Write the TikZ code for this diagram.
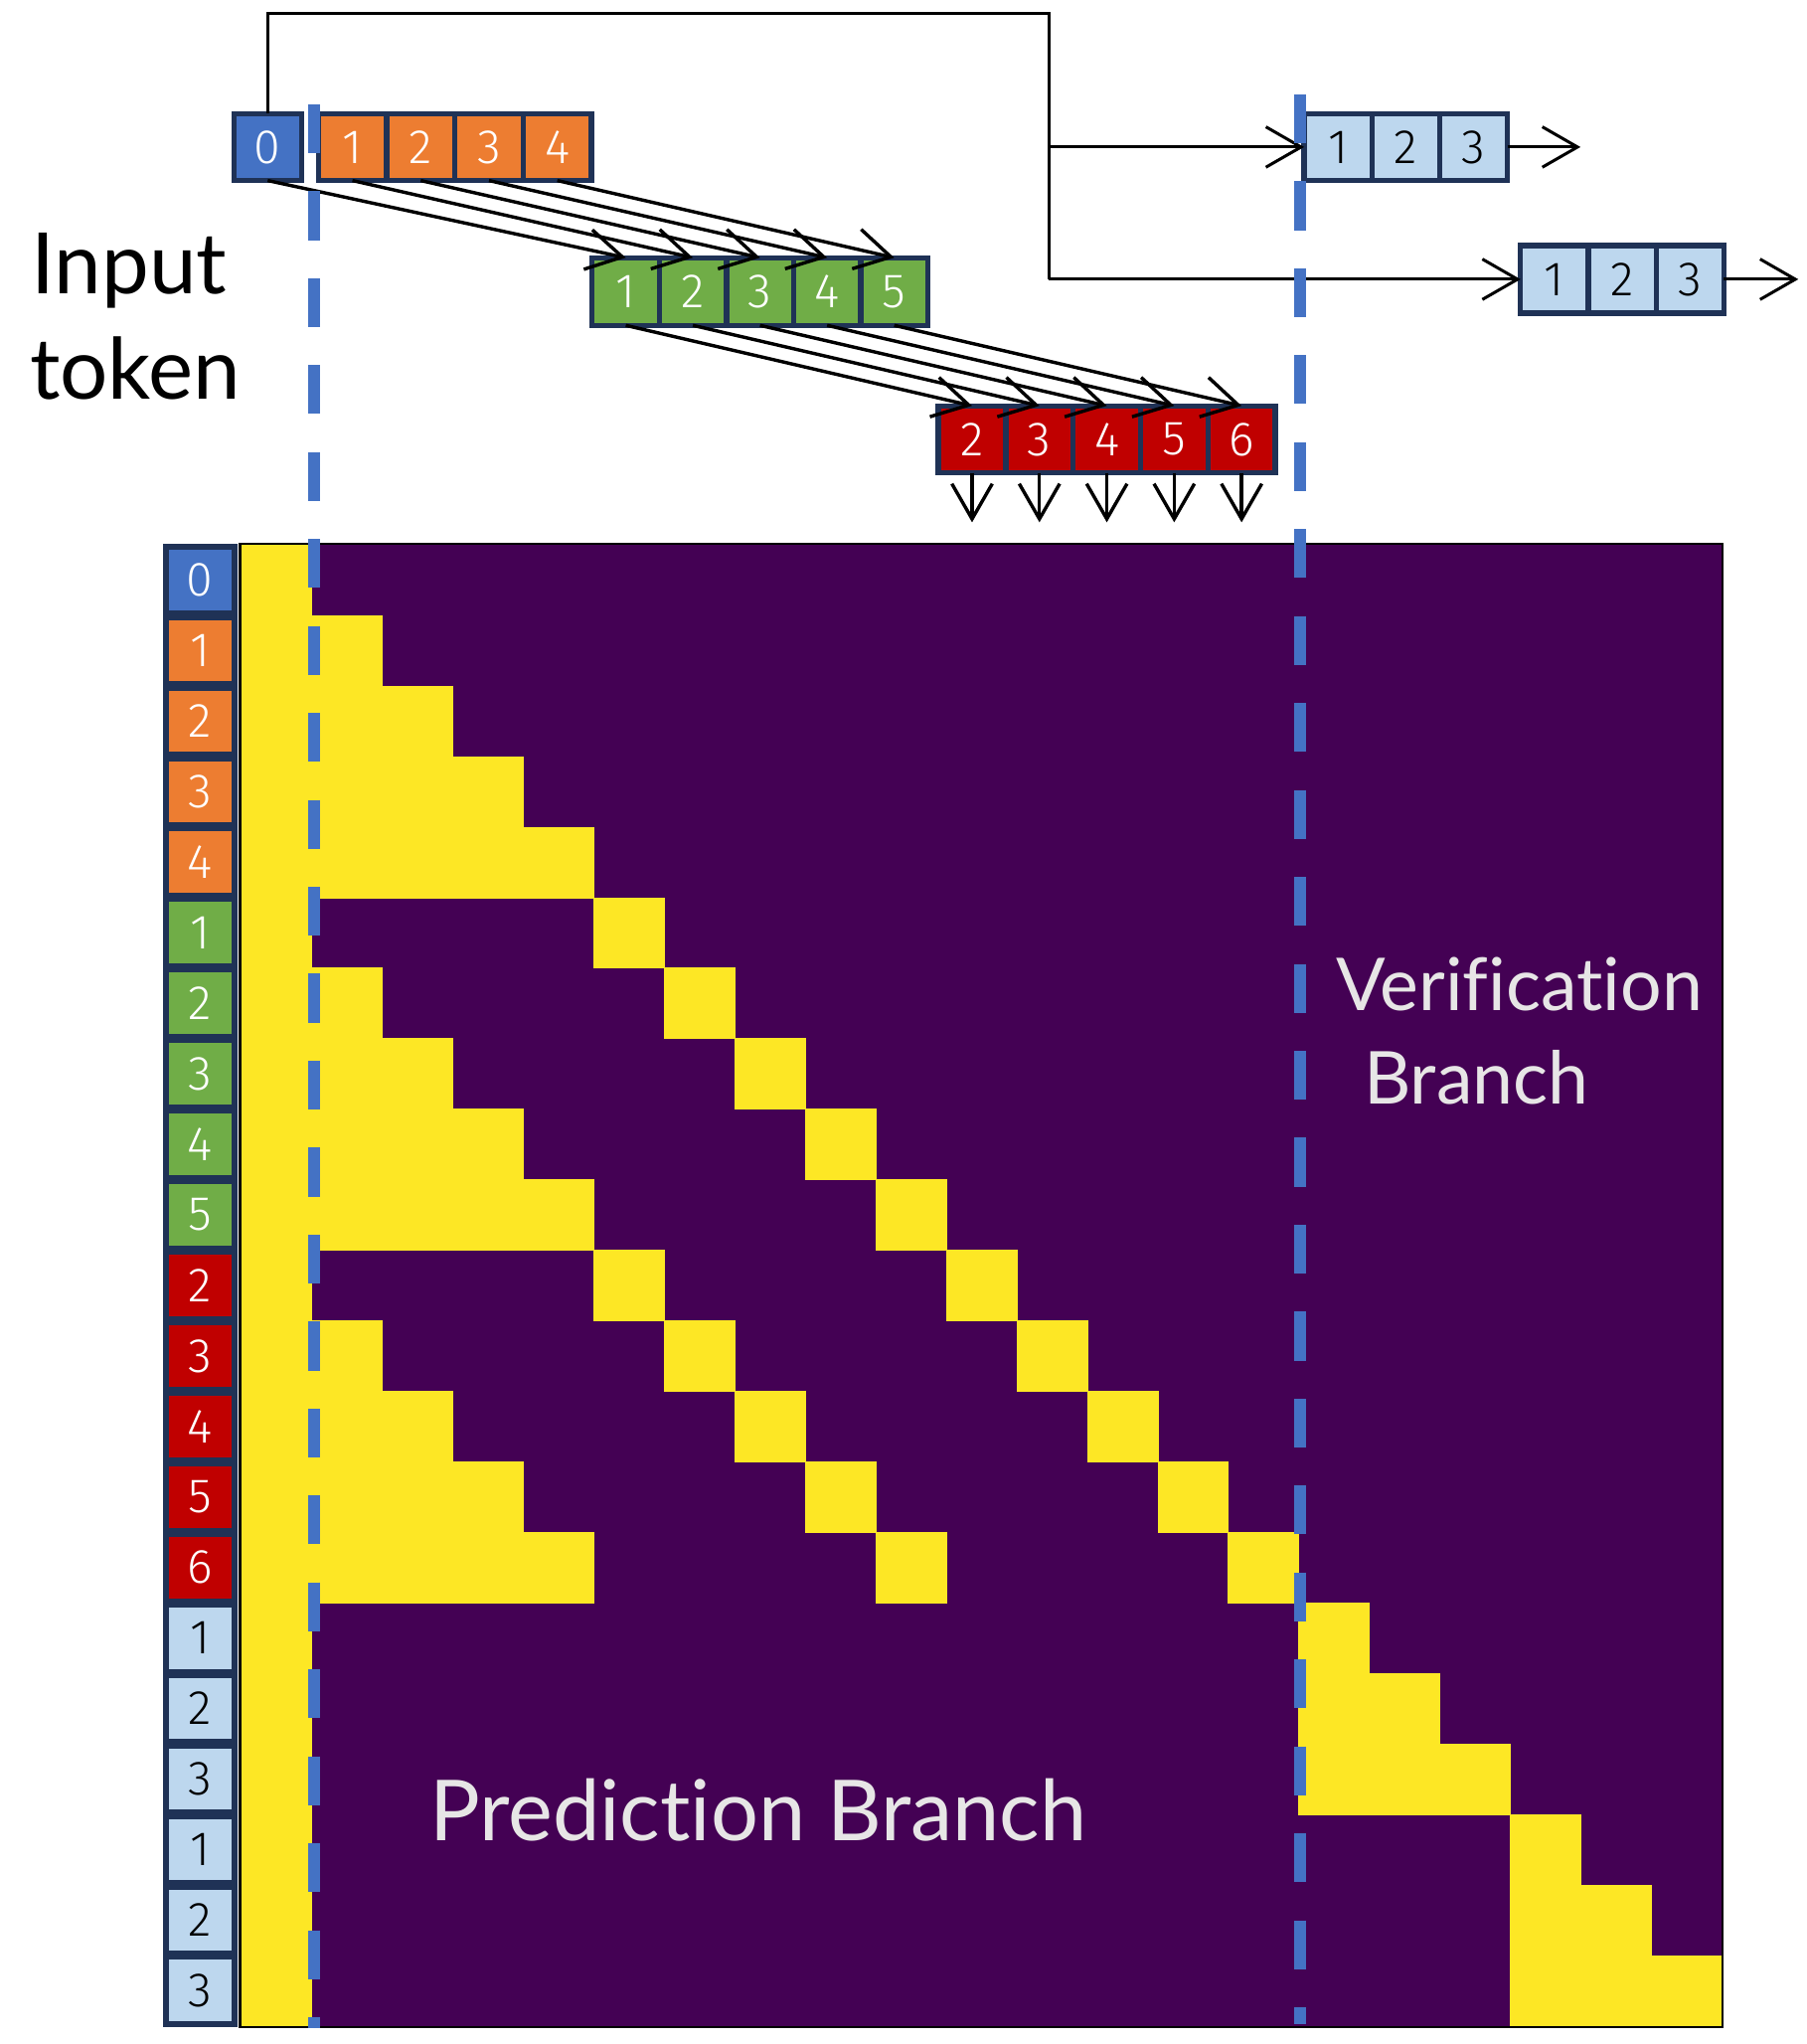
\documentclass[tikz,border=0pt]{standalone}
\usepackage{fontspec}
\setmainfont{Lato}[Ligatures={NoCommon}]
\newfontfamily\digitfont{Fira Sans Light}
\usetikzlibrary{arrows.meta,calc}
\definecolor{navy}{HTML}{1F3256}
\definecolor{tokblue}{HTML}{4472C4}
\definecolor{tokorange}{HTML}{ED7D31}
\definecolor{tokgreen}{HTML}{70AD47}
\definecolor{tokred}{HTML}{C00000}
\definecolor{toklight}{HTML}{BDD7EE}
\definecolor{vpurple}{HTML}{440154}
\definecolor{vyellow}{HTML}{FDE725}
\definecolor{dashblue}{HTML}{4472C4}
\definecolor{lblgrey}{HTML}{E7E6E6}
\begin{document}
\begin{tikzpicture}[x=1pt,y=-1pt,
  tokbox/.style={draw=navy, line width=4pt, inner sep=0pt, outer sep=0pt,
    font=\digitfont\fontsize{37}{37}\selectfont, text=white},
  lblbox/.style={tokbox, line width=4.5pt, minimum width=52.3pt, minimum height=51.6pt},
  tokarrow/.style={line width=2.6pt, -{Straight Barb[length=27pt,width=31pt]}},
  connline/.style={line width=2.3pt},
  dashline/.style={dashblue, line width=9pt, dash pattern=on 37.5pt off 29.2pt},
  cell/.style={fill=vyellow, draw=vyellow, line width=0.4pt},
  bigtext/.style={inner sep=0pt, outer sep=0pt, anchor=base west}
]
\useasboundingbox (0,0) rectangle (1386,1568);
% ---------------- matrix ----------------
\fill[vpurple] (185,418) rectangle (1321.1,1554.1);
% column 0
\fill[cell] (185,418) rectangle (239.1,1554.1);
% helper: cell at (col,row)
\newcommand{\ycell}[2]{\fill[cell] ({185+#1*54.1},{418+#2*54.1}) rectangle ({185+(#1+1)*54.1},{418+(#2+1)*54.1});}
% orange rows 1..4
\foreach \r in {1,...,4}{\foreach \c in {1,...,\r}{\ycell{\c}{\r}}}
% green rows 5..9
\foreach \k in {0,...,4}{
  \pgfmathtruncatemacro{\rr}{5+\k}
  \ycell{\rr}{\rr}
  \ifnum\k>0 \foreach \c in {1,...,\k}{\ycell{\c}{\rr}}\fi
}
% red rows 10..14
\foreach \k in {0,...,4}{
  \pgfmathtruncatemacro{\rr}{10+\k}
  \pgfmathtruncatemacro{\cg}{5+\k}
  \ycell{\rr}{\rr}
  \ycell{\cg}{\rr}
  \ifnum\k>0 \foreach \c in {1,...,\k}{\ycell{\c}{\rr}}\fi
}
% verification rows
\foreach \k in {0,...,2}{
  \pgfmathtruncatemacro{\ra}{15+\k}
  \pgfmathtruncatemacro{\rb}{18+\k}
  \foreach \c in {0,...,\k}{
    \pgfmathtruncatemacro{\ca}{15+\c}
    \pgfmathtruncatemacro{\cb}{18+\c}
    \ycell{\ca}{\ra}
    \ycell{\cb}{\rb}
  }
}
\draw[black, line width=1.6pt] (184.2,417.2) rectangle (1321.9,1554.9);
% ---------------- left labels ----------------
\foreach \i/\t/\f/\tc in {0/0/tokblue/white,1/1/tokorange/white,2/2/tokorange/white,3/3/tokorange/white,4/4/tokorange/white,
  5/1/tokgreen/white,6/2/tokgreen/white,7/3/tokgreen/white,8/4/tokgreen/white,9/5/tokgreen/white,
  10/2/tokred/white,11/3/tokred/white,12/4/tokred/white,13/5/tokred/white,14/6/tokred/white,
  15/1/toklight/black,16/2/toklight/black,17/3/toklight/black,18/1/toklight/black,19/2/toklight/black,20/3/toklight/black}{
  \node[lblbox, fill=\f, text=\tc] (L\i) at (153.5,{418+(\i+0.5)*54.1}) {\t};
}
% ---------------- top token rows ----------------
\node[tokbox, fill=tokblue, minimum width=52pt, minimum height=51.4pt] (a0) at (205.4,112.8) {0};
\foreach \i in {1,...,4}{
  \node[tokbox, fill=tokorange, minimum width=52.4pt, minimum height=51.4pt] (o\i) at ({244.2+52.4*(\i-0.5)},112.8) {\i};
}
\foreach \i in {1,...,5}{
  \node[tokbox, fill=tokgreen, minimum width=51.5pt, minimum height=51.9pt] (g\i) at ({454.4+51.5*(\i-0.5)},223.65) {\i};
}
\foreach \i/\t in {1/2,2/3,3/4,4/5,5/6}{
  \node[tokbox, fill=tokred, minimum width=51.7pt, minimum height=51.4pt] (r\i) at ({720+51.7*(\i-0.5)},337) {\t};
}
\foreach \i in {1,...,3}{
  \node[tokbox, fill=toklight, text=black, minimum width=52pt, minimum height=51.4pt] (v\i) at ({1000.6+52*(\i-0.5)},112.8) {\i};
  \node[tokbox, fill=toklight, text=black, minimum width=52pt, minimum height=51.9pt] (w\i) at ({1166.7+52*(\i-0.5)},214.25) {\i};
}
% ---------------- arrows ----------------
\draw[tokarrow] (a0.south) -- (g1.north);
\foreach \i/\j in {1/2,2/3,3/4,4/5}{\draw[tokarrow] (o\i.south) -- (g\j.north);}
\foreach \i in {1,...,5}{
  \draw[tokarrow] (g\i.south) -- (r\i.north);
  \coordinate (d\i) at ($(r\i.south)+(0,38)$);
  \draw[tokarrow] (r\i.south) -- (d\i);
}
% connector
\coordinate (cA) at (205.4,10.2);
\coordinate (cB) at (804.7,10.2);
\coordinate (cC) at (804.7,214.25);
\coordinate (cD) at (804.7,112.8);
\coordinate (e1) at (1212.7,112.8);
\coordinate (e2) at (1379.8,214.25);
\draw[connline] (a0.north) -- (cA) -- (cB) -- (cC);
\draw[tokarrow, line width=2.3pt] (cC) -- (w1.west);
\draw[tokarrow, line width=2.3pt] (cD) -- (v1.west);
\draw[tokarrow, line width=2.3pt] (v3.east) -- (e1);
\draw[tokarrow, line width=2.3pt] (w3.east) -- (e2);
% ---------------- dashed separators ----------------
\coordinate (s1a) at (241,80);
\coordinate (s1b) at (241,1556);
\coordinate (s2a) at (997.5,72.4);
\coordinate (s2b) at (997.5,1553);
\draw[dashline] (s1a) -- (s1b);
\draw[dashline] (s2a) -- (s2b);
% ---------------- texts ----------------
\node[bigtext, font=\fontsize{65}{65}\selectfont] (t1) at (24,225) {Input};
\node[bigtext, font=\fontsize{65}{65}\selectfont] (t2) at (23,306) {token};
\node[bigtext, text=lblgrey, font=\fontsize{56}{56}\selectfont] (t3) at (1025.4,775.6) {Verification};
\node[bigtext, text=lblgrey, font=\fontsize{56}{56}\selectfont] (t4) at (1046.5,846.7) {Branch};
\node[bigtext, text=lblgrey, font=\fontsize{64.6}{64.6}\selectfont] (t5) at (329.6,1411.7) {Prediction Branch};
\end{tikzpicture}
\end{document}
